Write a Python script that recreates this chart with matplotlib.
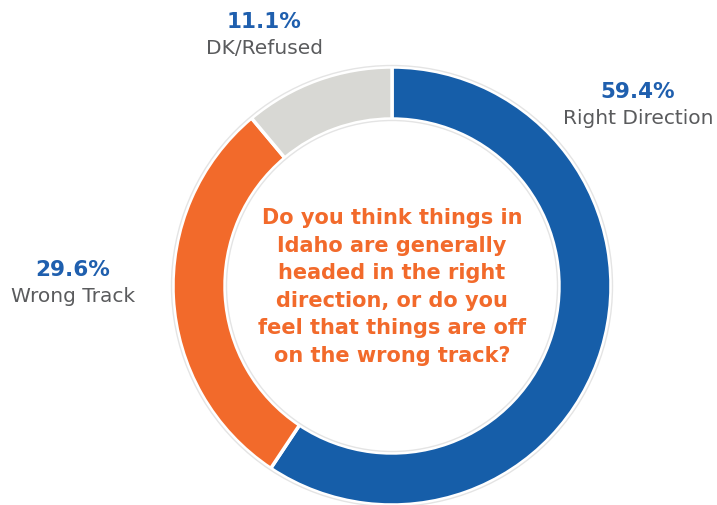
import matplotlib.pyplot as plt

# survey result
labels = ["Right Direction", "Wrong Track", "DK/Refused"]
shares = [59.4, 29.6, 11.1]
colors = ["#165ea9", "#f26a2b", "#d8d8d4"]
question = ("Do you think things in\nIdaho are generally\nheaded in the right\n"
            "direction, or do you\nfeel that things are off\non the wrong track?")

W, H = 717, 506
fig = plt.figure(figsize=(W / 100, H / 100), dpi=100)
ax = fig.add_axes([0, 0, 1, 1])
ax.set_xlim(0, W)
ax.set_ylim(0, H)
ax.set_aspect("equal")
ax.axis("off")

cx, cy, r, w = 392, H - 287, 219, 52

ax.pie(shares, colors=colors, startangle=90, counterclock=False,
       center=(cx, cy), radius=r, normalize=True,
       wedgeprops=dict(width=w, edgecolor="white", linewidth=2.5))
ax.set_xlim(0, W)
ax.set_ylim(0, H)

# faint outline around the ring
for rr in (r + 1.5, r - w - 1.5):
    ax.add_patch(plt.Circle((cx, cy), rr, fill=False, edgecolor="#e4e4e4", linewidth=1))

blue = "#1f5fae"
grey = "#5a5b5d"
font = "DejaVu Sans"

label_pos = [(638, 92), (73, 270), (264, 22)]
for lab, val, (x, y) in zip(labels, shares, label_pos):
    ax.text(x, H - y, f"{val:.1f}%", ha="center", va="center", color=blue,
            fontsize=15.5, fontweight="bold", family=font)
    ax.text(x, H - y - 26, lab, ha="center", va="center", color=grey,
            fontsize=14.5, family=font)

ax.text(cx, H - 287, question, ha="center", va="center", color="#f26a2b",
        fontsize=15, fontweight="bold", family=font, linespacing=1.47)

fig.savefig("out.png", dpi=100)
